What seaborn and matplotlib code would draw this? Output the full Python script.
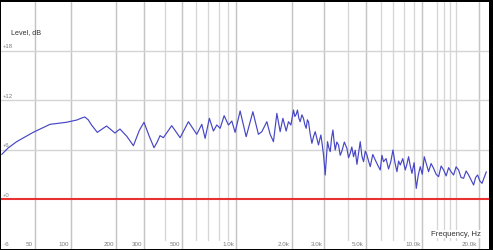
import numpy as np
import pandas as pd
import matplotlib
matplotlib.use("Agg")
import matplotlib.pyplot as plt
import seaborn as sns
from matplotlib.transforms import blended_transform_factory

# ---- data ----
freq_hz = [20, 25, 32, 48, 68, 92, 110, 118, 125, 132, 139, 152, 175, 198, 213, 235,
           258, 280, 299, 320, 343, 358,
           372, 389, 435, 486, 542, 604, 645, 673, 711, 749, 782, 816, 859, 907, 947,
           987, 1052, 1135, 1235, 1324, 1382, 1471, 1533, 1598, 1667, 1737, 1797, 1872,
           1926, 1985, 2050, 2085, 2120, 2154, 2190, 2227, 2275, 2320, 2360, 2399, 2435,
           2468, 2520, 2575, 2630, 2682, 2740, 2793, 2835, 2877, 2925, 2972, 3003, 3034,
           3078, 3122, 3175, 3228, 3282, 3337, 3385, 3432, 3500, 3575, 3650, 3727, 3840,
           3963, 4045, 4128, 4210, 4300, 4390, 4483, 4575, 4668, 4765, 4862, 4965, 5069,
           5170, 5278, 5445, 5612, 5785, 5966, 6090, 6212, 6405, 6603, 6785, 6970, 7145,
           7320, 7470, 7622, 7860, 8101, 8265, 8436, 8615, 8793, 9030, 9270, 9500, 9733,
           9975, 10222, 10495, 10773, 11110, 11452, 11810, 12174, 12560, 12946, 13350,
           13759, 14180, 14620, 15075, 15539, 16020, 16519, 17035, 17562, 18105, 18663,
           19125, 19595, 20130, 20679, 21230, 21794]
level_db = [5.4, 6.2, 6.95, 8.08, 9.05, 9.3, 9.58, 9.8, 9.94, 9.6, 8.97, 8.08, 8.85,
            8.0, 8.48, 7.6, 6.46, 8.3, 9.3, 7.7, 6.22, 6.9,
            7.68, 7.43, 8.89, 7.43, 9.37, 7.84, 9.05, 7.35, 9.78, 8.24, 8.97,
            8.57, 10.1, 8.97, 9.45, 8.08, 10.67, 7.55, 10.58, 7.84, 8.16, 9.37, 7.84, 6.95,
            10.38, 8.16, 9.78, 8.24, 9.37, 8.97, 10.79, 10.0, 10.27, 10.79, 9.8, 9.37,
            10.2, 9.78, 9.0, 8.57, 9.6, 9.37, 7.9, 6.75, 7.6, 8.16, 7.3, 6.55, 7.2, 7.76,
            6.6, 5.33, 4.2, 2.91, 4.9, 6.95, 6.2, 5.74, 7.4, 8.36, 7.0, 5.94, 6.9, 6.55,
            5.3, 5.82, 6.9, 6.14, 5.0, 5.54, 6.3, 5.13, 5.9, 4.2, 5.6, 6.95, 5.2, 4.52,
            5.8, 5.33, 4.6, 3.92, 5.4, 4.73, 4.1, 3.52, 5.3, 4.52, 4.9, 3.64, 4.5, 5.94,
            4.4, 3.31, 4.6, 4.12, 4.9, 3.52, 4.2, 5.13, 4.0, 3.11, 4.4, 1.29, 2.9, 3.92,
            3.0, 5.13, 4.2, 3.31, 4.3, 3.72, 3.0, 2.71, 4.0, 3.52, 2.8, 3.8, 3.3, 2.91,
            3.9, 3.52, 2.6, 2.51, 3.4, 2.91, 2.3, 1.7, 2.6, 2.91, 2.2, 1.9, 2.6, 3.3]

x_tick_values = [50, 100, 200, 300, 500, 1000, 2000, 3000, 5000, 10000, 20000]
x_tick_labels = ["50", "100", "200", "300", "500", "1.0k", "2.0k", "3.0k", "5.0k",
                 "10.0k", "20.0k"]
x_minor_values = [400, 600, 700, 800, 900, 4000, 6000, 7000, 8000, 9000,
                  12000, 13000, 14000, 15000]
y_grid_values = [0, 6, 12, 18]
y_grid_labels = ["+0", "+6", "+12", "+18"]
y_bottom_label = "-6"

df = pd.DataFrame({"freq": freq_hz, "level": level_db})

sns.set_theme(style="white")
plt.rcParams['font.family'] = ['Liberation Sans', 'DejaVu Sans']

W, H = 493, 250
fig = plt.figure(figsize=(W / 100, H / 100), dpi=100, facecolor='black')
ax = fig.add_axes([1 / W, 1.5 / H, 488.3 / W, 247 / H])
ax.set_facecolor('white')

OFF = 40.0
ax.set_xscale('function', functions=(lambda f: np.log10(np.asarray(f) + OFF),
                                     lambda u: 10 ** np.asarray(u) - OFF))
ax.set_xlim(19.5, 22600)
ax.set_ylim(-6, 23.94)

for v in x_tick_values:
    ax.axvline(v, color='#c4c4c4', lw=1.05, zorder=0)
for v in x_minor_values:
    ax.axvline(v, ymin=0.036, color='#d6d6d6', lw=0.95, zorder=0)
for v in y_grid_values[1:]:
    ax.axhline(v, color='#d4d4d4', lw=1.0, zorder=0)
ax.axhline(0, color='#e83232', lw=1.5, zorder=3)

sns.lineplot(data=df, x="freq", y="level", ax=ax, color='#4646c6', lw=0.85,
             sort=False, estimator=None, zorder=4)

ax.set_xticks([])
ax.set_yticks([])
ax.set_xlabel("")
ax.set_ylabel("")
for s in ax.spines.values():
    s.set_visible(False)

bt = blended_transform_factory(ax.transData, ax.transAxes)
for v, lbl in zip(x_tick_values, x_tick_labels):
    ax.annotate(lbl, xy=(v, 0), xycoords=bt, xytext=(-1.4, 1.3),
                textcoords='offset points', ha='right', va='bottom',
                fontsize=4.5, color='#7a7a7a', zorder=6)

lt = blended_transform_factory(ax.transAxes, ax.transData)
for v, lbl in zip(y_grid_values, y_grid_labels):
    ax.annotate(lbl, xy=(0, v), xycoords=lt, xytext=(1.6, 0.9),
                textcoords='offset points', ha='left', va='bottom',
                fontsize=4.3, color='#7a7a7a', zorder=6)
ax.annotate(y_bottom_label, xy=(0, 0), xycoords='axes fraction', xytext=(1.6, 1.3),
            textcoords='offset points', ha='left', va='bottom',
            fontsize=4.5, color='#7a7a7a', zorder=6)

ax.text(10 / 488.3, 1 - (33 - 1.5) / 247, "Level, dB", transform=ax.transAxes,
        ha='left', va='center', fontsize=5.2, color='#333333', zorder=6)
ax.text((481.5 - 1) / 488.3, (248.5 - 234) / 247, "Frequency, Hz",
        transform=ax.transAxes, ha='right', va='center', fontsize=5.6,
        color='#333333', zorder=6,
        bbox=dict(facecolor='white', edgecolor='none', pad=0.6))

fig.savefig("out.png", dpi=100, facecolor='black')
